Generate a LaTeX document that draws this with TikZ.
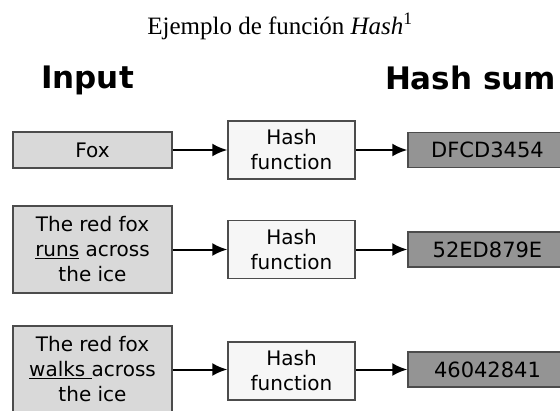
\documentclass[tikz,border=0pt]{standalone}
\usepackage{fontspec}
\newfontfamily\boxfont{DejaVu Sans}
\newfontfamily\titlefont{Liberation Serif}
\usetikzlibrary{arrows.meta}
\definecolor{inputgray}{gray}{0.85}
\definecolor{hashwhite}{gray}{0.965}
\definecolor{sumgray}{gray}{0.58}
\definecolor{framegray}{gray}{0.3}

\begin{document}
\begin{tikzpicture}[x=1pt,y=-1pt,>={Latex[length=15pt,width=13pt]},
  box/.style={draw=framegray,line width=1.5pt,align=center,inner sep=0pt,
    font=\boxfont\fontsize{20}{25}\selectfont},
  inbox/.style={box,fill=inputgray,minimum width=159pt},
  hashbox/.style={box,fill=hashwhite,minimum width=127pt,minimum height=58pt},
  sumbox/.style={box,fill=sumgray,minimum width=159pt,minimum height=35pt,font=\boxfont\fontsize{21}{25}\selectfont},
  head/.style={anchor=base,font=\boxfont\bfseries\fontsize{31}{36}\selectfont},
  link/.style={->,line width=2pt}]
  \clip (0,0) rectangle (560,410);
  % title and column heads
  \node[anchor=base,font=\titlefont\fontsize{25}{30}\selectfont] (title) at (280,34) {Ejemplo de función \textit{Hash}\textsuperscript{1}};
  \node[head] (input) at (87.5,88) {Input};
  \node[head] (sum) at (470.5,89) {Hash sum};
  % row 1
  \node[inbox,minimum height=36pt] (in1) at (92.5,150) {Fox};
  \node[hashbox] (hf1) at (291.5,150) {Hash\\function};
  \node[sumbox] (hs1) at (487.5,150) {DFCD3454};
  % row 2
  \node[inbox,minimum height=87pt] (in2) at (92.5,249.5) {The red fox\\\underline{runs} across\\the ice};
  \node[hashbox] (hf2) at (291.5,249.5) {Hash\\function};
  \node[sumbox] (hs2) at (487.5,249.5) {52ED879E};
  % row 3
  \node[inbox,minimum height=87pt] (in3) at (92.5,369.5) {The red fox\\\underline{walks\ }across\\the ice};
  \node[hashbox] (hf3) at (291.5,371) {Hash\\function};
  \node[sumbox] (hs3) at (487.5,369.5) {46042841};
  % arrows
  \draw[link] (in1) -- (hf1);
  \draw[link] (hf1) -- (hs1);
  \draw[link] (in2) -- (hf2);
  \draw[link] (hf2) -- (hs2);
  \draw[link] (in3.east) -- (hf3.west |- in3.east);
  \draw[link] (hf3.east |- hs3.west) -- (hs3);
\end{tikzpicture}
\end{document}
